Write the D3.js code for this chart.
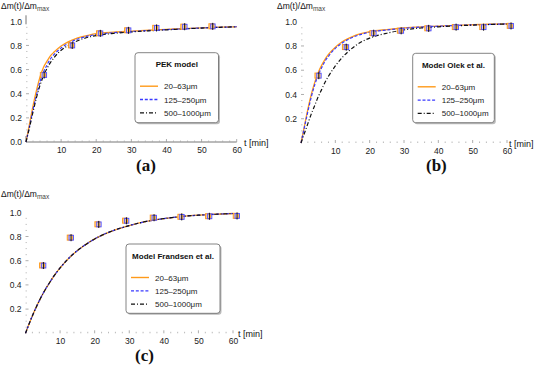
<!DOCTYPE html>
<html><head><meta charset="utf-8">
<script src="https://cdn.jsdelivr.net/npm/d3@7/dist/d3.min.js"></script>
<style>body{margin:0;background:#fff}svg{display:block}</style>
</head><body>
<svg id="c" width="553" height="370"></svg>
<script>
// ---------- data ----------
const seriesNames = ["20\u201363\u03bcm", "125\u2013250\u03bcm", "500\u20131000\u03bcm"];
const seriesColors = ["#ff9a1a", "#3a3aff", "#111111"];
const seriesDash = [null, "3,1.8", "4,2,1,2"];
const xTicks = [10, 20, 30, 40, 50, 60];
const yTicksA = [0.0, 0.2, 0.4, 0.6, 0.8, 1.0];
const yTicksBC = [0.2, 0.4, 0.6, 0.8, 1.0];

// measured points (time, fraction)
const tMeas = [5, 13, 21, 29, 37, 45, 53, 61];
const measA = [0.555, 0.80, 0.90, 0.925, 0.945, 0.955, 0.958, 0.965];
const measB = [0.555, 0.79, 0.905, 0.925, 0.945, 0.955, 0.955, 0.965];
const measC = [0.56, 0.79, 0.90, 0.93, 0.955, 0.962, 0.967, 0.97];

// model curves sampled at tCurve
const tCurve = [0,1,2,3,4,5,6,7,8,10,12,14,16,18,20,25,30,35,40,45,50,55,60];
const pekOrange = [0,0.15,0.30,0.43,0.54,0.62,0.67,0.715,0.745,0.795,0.83,0.855,0.872,0.886,0.897,0.91,0.918,0.926,0.933,0.94,0.946,0.951,0.955];
const pekBlue   = [0,0.13,0.27,0.39,0.50,0.58,0.64,0.69,0.725,0.78,0.815,0.845,0.865,0.88,0.89,0.906,0.915,0.924,0.931,0.938,0.945,0.95,0.955];
const pekBlack  = [0,0.12,0.25,0.37,0.47,0.55,0.61,0.66,0.70,0.76,0.80,0.83,0.853,0.87,0.882,0.90,0.912,0.921,0.929,0.937,0.944,0.95,0.955];
const olekOrange = [0,0.14,0.28,0.40,0.50,0.58,0.64,0.69,0.73,0.79,0.835,0.865,0.89,0.905,0.918,0.935,0.948,0.957,0.964,0.97,0.975,0.979,0.982];
const olekBlue   = [0,0.13,0.26,0.38,0.48,0.56,0.62,0.675,0.715,0.78,0.825,0.857,0.882,0.90,0.913,0.932,0.946,0.956,0.963,0.969,0.974,0.978,0.982];
const olekBlack  = [0,0.08,0.16,0.24,0.31,0.38,0.44,0.50,0.55,0.635,0.705,0.76,0.805,0.84,0.865,0.905,0.932,0.948,0.958,0.966,0.972,0.977,0.981];
const frandsen   = [0,0.075,0.145,0.21,0.27,0.325,0.375,0.42,0.465,0.54,0.605,0.66,0.705,0.745,0.78,0.845,0.89,0.925,0.948,0.965,0.976,0.984,0.99];

const panels = [
  {x0:26, x60:236.7, y0:142, y1:21.3, yTicks:yTicksA, axisLine:true, tMax:60,
   curves:[pekOrange, pekBlue, pekBlack], meas:measA, title:"PEK model",
   box:[135,52.7,83.5,70], letter:"(a)", letterX:136, letterY:171,
   ylab:[1,9], xlab:[244,146]},
  {x0:301, x60:507, y0:143, y1:21.7, yTicks:yTicksBC, axisLine:false, tMax:62,
   curves:[olekOrange, olekBlue, olekBlack], meas:measB, title:"Model Olek et al.",
   box:[412.7,53.3,81.6,69.4], letter:"(b)", letterX:426, letterY:171,
   ylab:[277,9], xlab:[509,147]},
  {x0:25.5, x60:233, y0:333.3, y1:212.3, yTicks:yTicksBC, axisLine:false, tMax:62,
   curves:[frandsen, frandsen, frandsen], meas:measC, title:"Model Frandsen et al.",
   box:[126,244,94,69.3], letter:"(c)", letterX:135, letterY:361,
   ylab:[1,197], xlab:[238,337]}
];

const svg = d3.select("#c");
const font = "'Liberation Sans', Arial, sans-serif";

panels.forEach(p => {
  const x = d3.scaleLinear().domain([0,60]).range([p.x0, p.x60]);
  const y = d3.scaleLinear().domain([0,1]).range([p.y0, p.y1]);
  const g = svg.append("g");

  // axes
  if (p.axisLine) {
    g.append("line").attr("x1", x(0)).attr("x2", x(60)).attr("y1", y(0)).attr("y2", y(0))
      .attr("stroke", "#777").attr("stroke-width", 1);
    g.append("line").attr("x1", x(0)).attr("x2", x(0)).attr("y1", y(0)).attr("y2", y(0) - 6)
      .attr("stroke", "#777");
    g.append("line").attr("x1", x(0)).attr("x2", x(0)).attr("y1", y(1)+3).attr("y2", y(1) - 6)
      .attr("stroke", "#777");
  }
  // x ticks
  const xAxis = d3.axisBottom(x).tickValues(xTicks).tickSize(0).tickFormat(d3.format("d"));
  const xa = g.append("g").attr("transform", `translate(0,${y(0)})`).call(xAxis);
  xa.select(".domain").remove();
  xa.selectAll("text").attr("font-family", font).attr("font-size", 8.5).attr("fill", "#222").attr("dy", "0.95em");
  // x minor ticks
  d3.range(2, 62, 2).filter(v => v % 10 !== 0 && v <= 60).forEach(v => {
    g.append("line").attr("x1", x(v)).attr("x2", x(v)).attr("y1", y(0)).attr("y2", y(0) - 1.5)
      .attr("stroke", "#aaa").attr("stroke-width", 0.8);
  });
  xTicks.forEach(v => {
    g.append("line").attr("x1", x(v)).attr("x2", x(v)).attr("y1", y(0)).attr("y2", y(0) - 3)
      .attr("stroke", "#999").attr("stroke-width", 0.8);
  });
  // y ticks
  const yAxis = d3.axisLeft(y).tickValues(p.yTicks).tickSize(0).tickFormat(d3.format(".1f"));
  const ya = g.append("g").attr("transform", `translate(${x(0) - 3},0)`).call(yAxis);
  ya.select(".domain").remove();
  ya.selectAll("text").attr("font-family", font).attr("font-size", 8.5).attr("fill", "#222").attr("x", -1);
  d3.range(0.05, 1.0, 0.05).forEach(v => {
    const major = Math.abs(v*5 - Math.round(v*5)) < 1e-6;
    g.append("line").attr("x1", x(0)).attr("x2", x(0) + (major ? 3 : 1.5)).attr("y1", y(v)).attr("y2", y(v))
      .attr("stroke", major ? "#999" : "#bbb").attr("stroke-width", 0.8);
  });

  // axis labels
  const yl = g.append("text").attr("x", p.ylab[0]).attr("y", p.ylab[1])
    .attr("font-family", font).attr("font-size", 8.5).attr("fill", "#111");
  yl.append("tspan").text("\u0394m(t)/\u0394m");
  yl.append("tspan").text("max").attr("font-size", 6.5).attr("dy", 2).attr("fill", "#444");
  g.append("text").attr("x", p.xlab[0]).attr("y", p.xlab[1]).text("t [min]")
    .attr("font-family", font).attr("font-size", 9).attr("fill", "#111");

  // curves
  const line = d3.line().x((d) => x(d[0])).y((d) => y(d[1])).curve(d3.curveMonotoneX);
  p.curves.forEach((vals, i) => {
    const pts = tCurve.map((t, k) => [t, vals[k]]);
    g.append("path").attr("d", line(pts)).attr("fill", "none")
      .attr("stroke", seriesColors[i]).attr("stroke-width", i === 0 ? 1.3 : 1.2)
      .attr("stroke-dasharray", seriesDash[i]);
  });

  // measured markers
  tMeas.forEach((t, k) => {
    if (t > p.tMax) return;
    const cx = x(t), cy = y(p.meas[k]);
    g.append("rect").attr("x", cx - 3.2).attr("y", cy - 2.6).attr("width", 5).attr("height", 5)
      .attr("fill", "#ffd9a8").attr("stroke", "#ff9a1a").attr("stroke-width", 1);
    g.append("rect").attr("x", cx - 1.4).attr("y", cy - 2.4).attr("width", 4.4).attr("height", 4.8)
      .attr("fill", "none").attr("stroke", "#5555ff").attr("stroke-width", 1);
    g.append("line").attr("x1", cx + 0.6).attr("x2", cx + 0.6).attr("y1", cy - 3.5).attr("y2", cy + 3.5)
      .attr("stroke", "#111").attr("stroke-width", 1);
  });

  // legend
  const [bx, by, bw, bh] = p.box;
  g.append("rect").attr("x", bx + 1.5).attr("y", by + 1.5).attr("width", bw).attr("height", bh)
    .attr("rx", 3).attr("fill", "#bbb");
  g.append("rect").attr("x", bx).attr("y", by).attr("width", bw).attr("height", bh)
    .attr("rx", 3).attr("fill", "#fff").attr("stroke", "#666").attr("stroke-width", 0.8);
  g.append("text").attr("x", bx + bw / 2).attr("y", by + 14.5).attr("text-anchor", "middle")
    .text(p.title).attr("font-family", font).attr("font-size", 8).attr("font-weight", "bold").attr("fill", "#111");
  seriesNames.forEach((name, i) => {
    const ry = by + 33.5 + i * 13.3;
    g.append("line").attr("x1", bx + 5).attr("x2", bx + 23).attr("y1", ry).attr("y2", ry)
      .attr("stroke", seriesColors[i]).attr("stroke-width", i === 0 ? 1.4 : 1.3)
      .attr("stroke-dasharray", seriesDash[i]);
    g.append("text").attr("x", bx + 29).attr("y", ry + 3).text(name)
      .attr("font-family", font).attr("font-size", 8).attr("fill", "#222");
  });

  // panel letter
  g.append("text").attr("x", p.letterX).attr("y", p.letterY).text(p.letter)
    .attr("font-family", "'Liberation Serif', 'Times New Roman', serif").attr("font-size", 17)
    .attr("font-weight", "bold").attr("fill", "#111");
});
</script>
</body></html>
